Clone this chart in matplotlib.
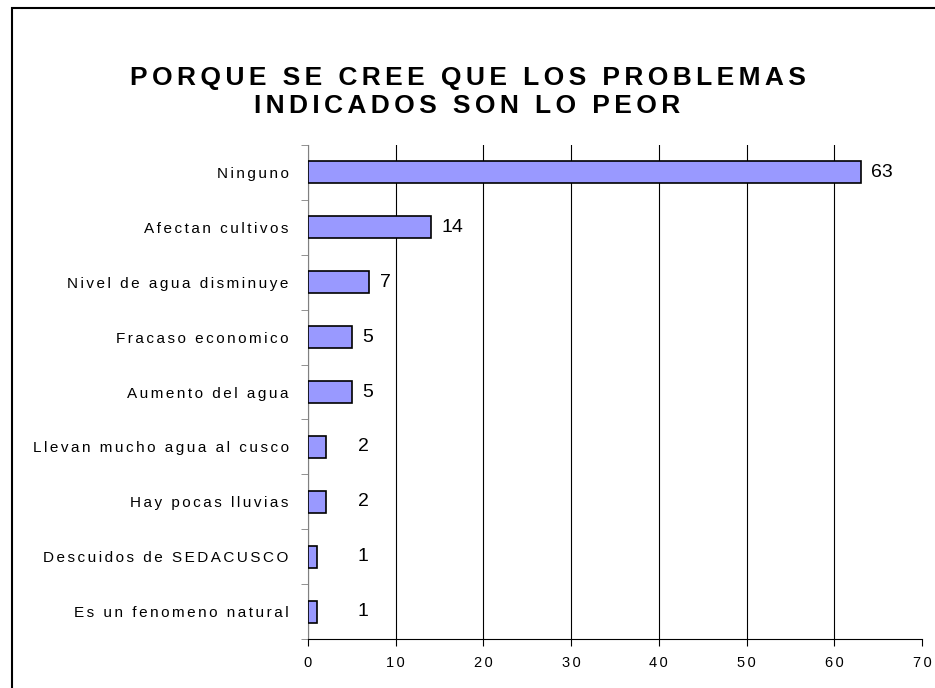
import matplotlib.pyplot as plt
import matplotlib.patches as patches

categories = ['Ninguno', 'Afectan cultivos', 'Nivel de agua disminuye',
              'Fracaso economico', 'Aumento del agua', 'Llevan mucho agua al cusco',
              'Hay pocas lluvias', 'Descuidos de SEDACUSCO', 'Es un fenomeno natural']
values = [63, 14, 7, 5, 5, 2, 2, 1, 1]
x_ticks = [0, 10, 20, 30, 40, 50, 60, 70]
title_lines = ['PORQUE SE CREE QUE LOS PROBLEMAS', 'INDICADOS SON LO PEOR']

plt.rcParams['font.family'] = ['Liberation Sans', 'DejaVu Sans']


def spaced(s, gap):
    # mimic the wide letter spacing of the original export
    return gap.join(s)


fig = plt.figure(figsize=(9.35, 6.88), dpi=100)
ax = fig.add_axes([0.3294, 0.0712, 0.6567, 0.7180])

# outer chart frame (right and bottom edges are cut off in the original)
frame = patches.Rectangle((12 / 935, -0.5), 2.0, 1 - 8 / 688 + 0.5,
                          transform=fig.transFigure, fill=False,
                          edgecolor='black', linewidth=1.5, clip_on=False)
fig.patches.append(frame)

ypos = list(range(len(categories)))
ax.barh(ypos, values, height=0.4, color='#9999FF', edgecolor='black',
        linewidth=1.2, zorder=3)

for y, v in zip(ypos, values):
    ax.text(max(v, 4.5) + 1.2, y, str(v), va='center', ha='left', fontsize=14)

ax.set_xlim(0, 70)
ax.set_ylim(len(categories) - 0.5, -0.5)
ax.set_xticks(x_ticks)
ax.set_xticklabels([spaced(str(t), '\u2006') for t in x_ticks], fontsize=10.5)
ax.set_yticks(ypos)
ax.set_yticklabels([spaced(c, '\u2006') for c in categories], fontsize=11)
ax.set_yticks([i - 0.5 for i in range(len(categories) + 1)], minor=True)
ax.tick_params(axis='y', which='major', length=0, pad=14)
ax.tick_params(axis='y', which='minor', length=5, color='gray')
ax.tick_params(axis='x', length=5, pad=7)

ax.grid(axis='x', color='black', linewidth=0.8, zorder=0)
ax.xaxis.get_gridlines()[-1].set_visible(False)
for side in ['top', 'right']:
    ax.spines[side].set_visible(False)
ax.spines['left'].set_color('gray')
ax.spines['bottom'].set_color('black')

title = '\n'.join(spaced(line, '\u2006') for line in title_lines)
fig.text(0.5, 0.866, title, ha='center', va='center', fontsize=19,
         fontweight='bold', linespacing=1.22)

fig.savefig('out.png', dpi=100)
